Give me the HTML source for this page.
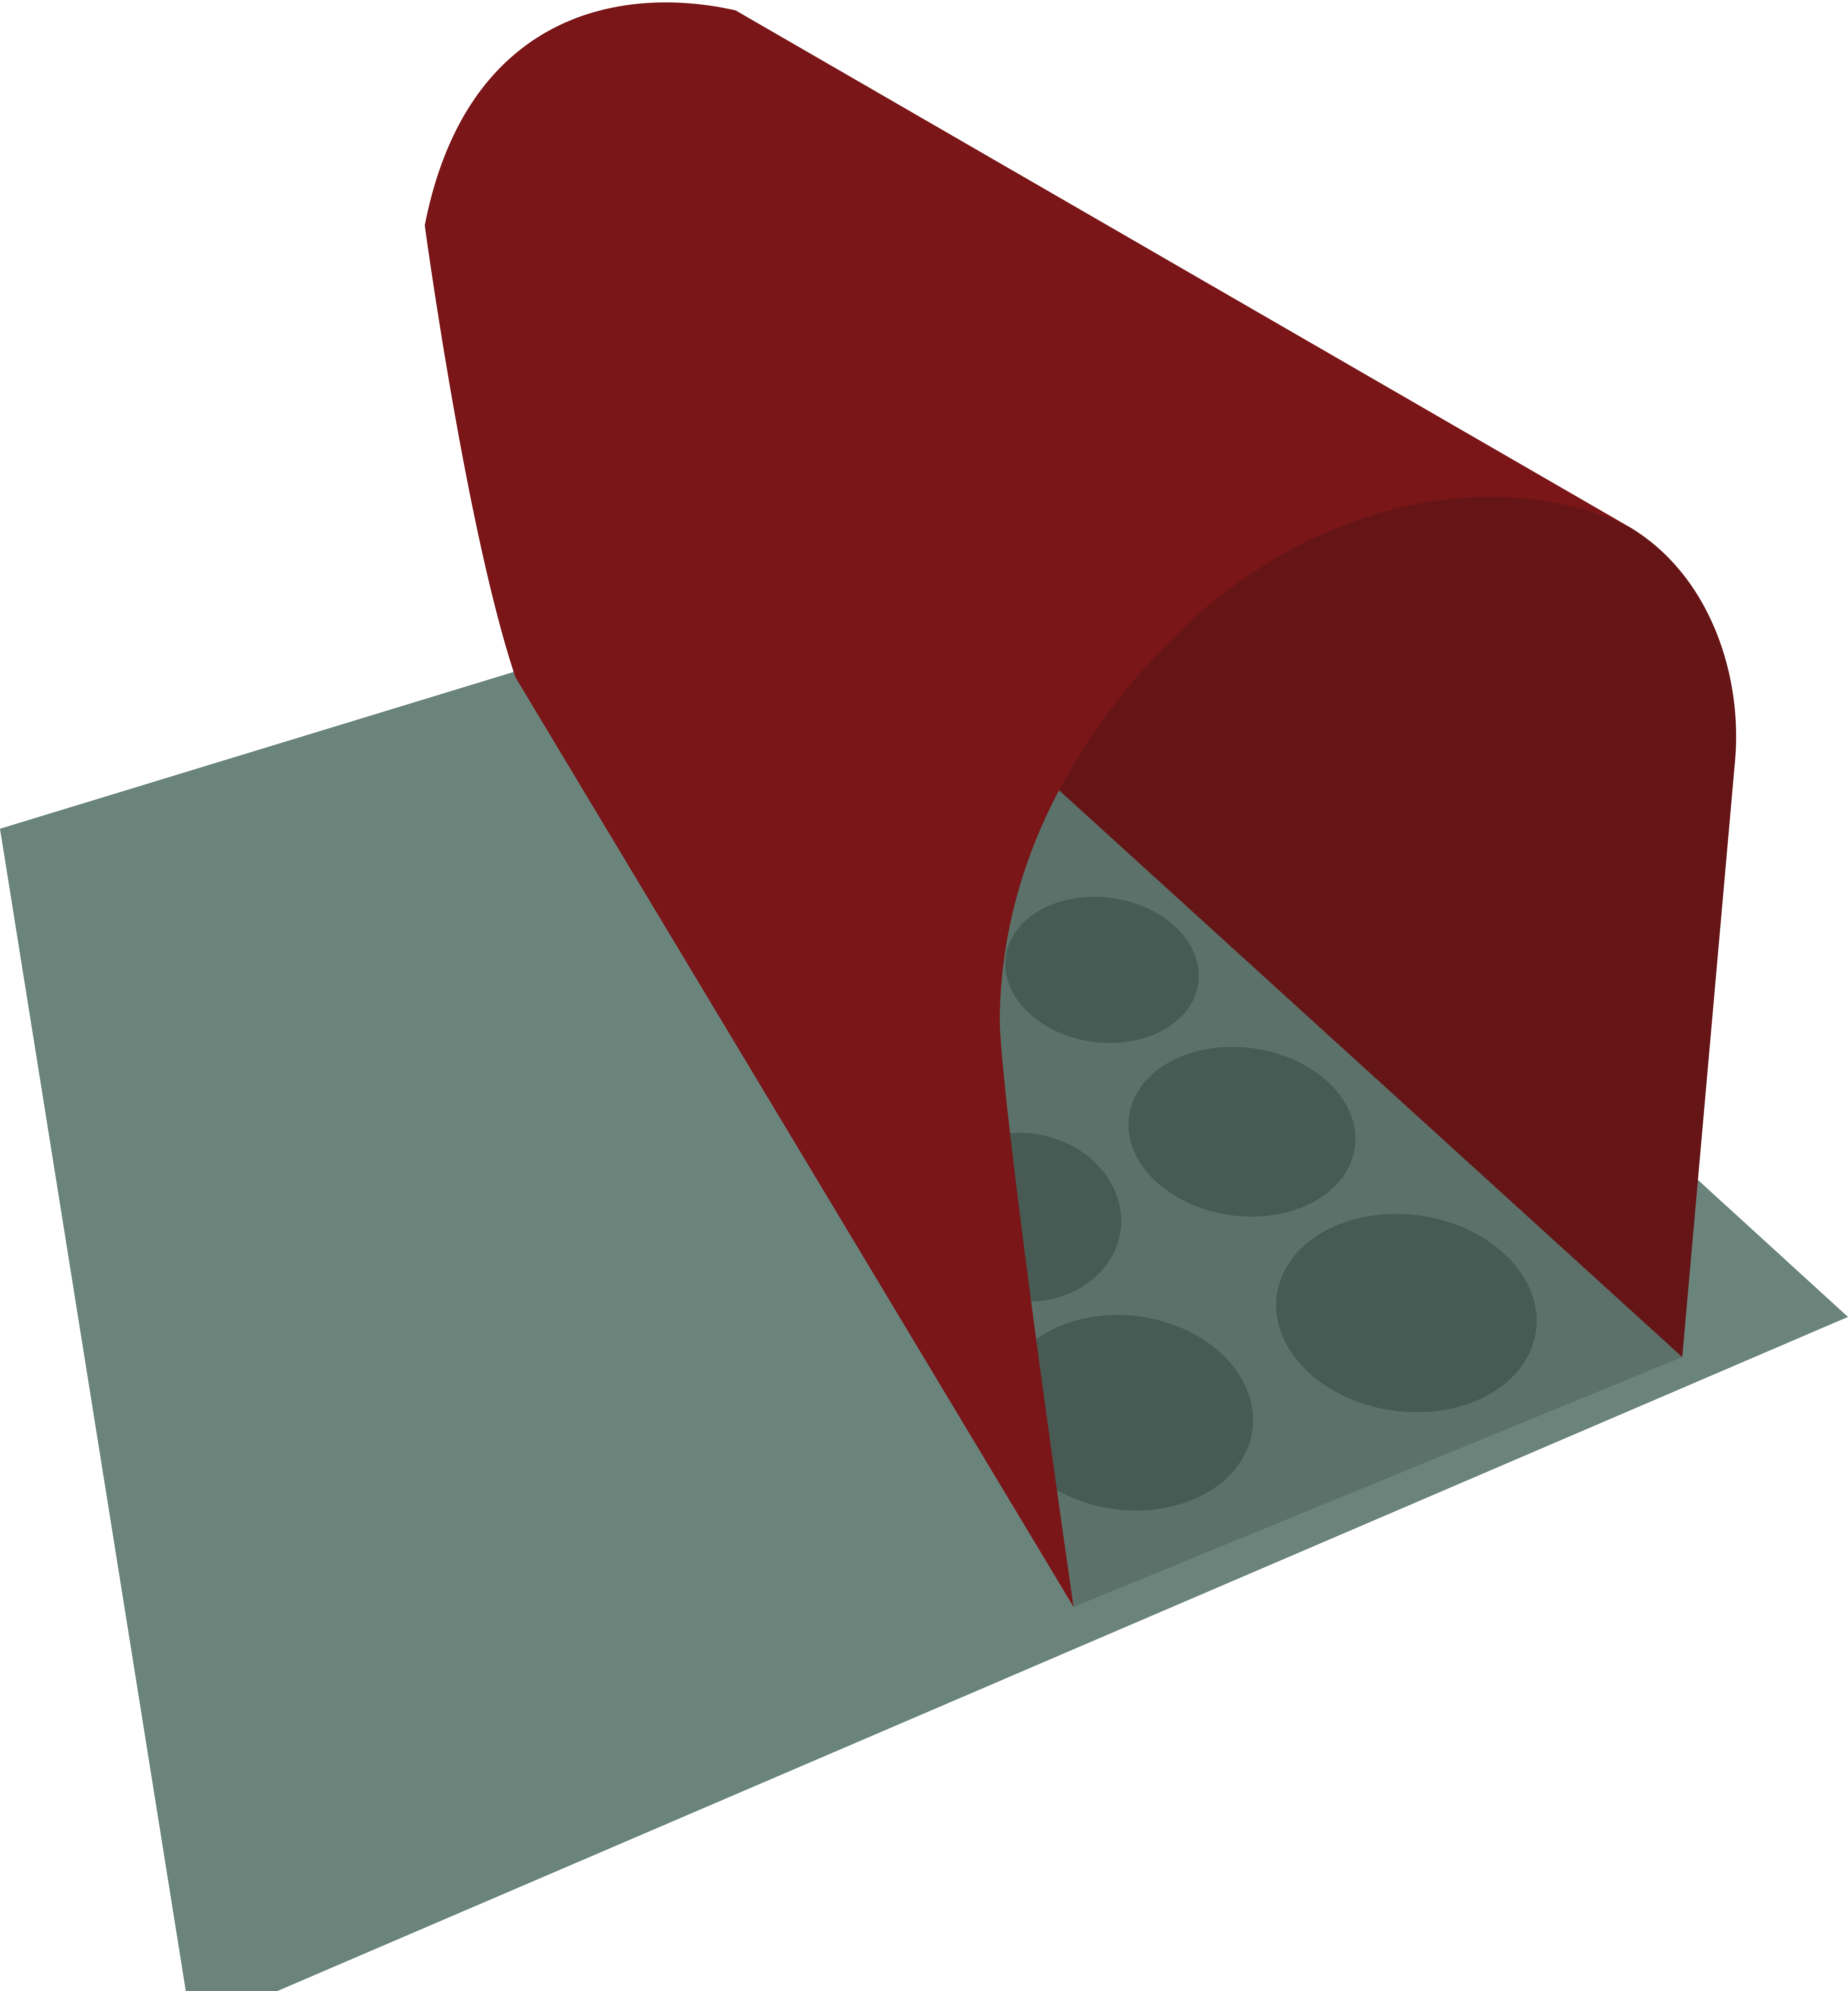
<!DOCTYPE html>
<html>
<head>
<meta charset="utf-8">
<style>
html,body{margin:0;padding:0;background:#fff;width:4641px;height:5099px;overflow:hidden;}
svg{display:block;position:absolute;left:0;top:0;}
</style>
</head>
<body>
<svg width="4641" height="5099" viewBox="0 0 1427 1568" preserveAspectRatio="none" xmlns="http://www.w3.org/2000/svg">
  <polygon points="0,640 760,408 1427,1017 148,1566" fill="#6a847c"/>
  <polygon points="760,560 812,605 1299,1048 829,1241 720,700" fill="#5b7169"/>
  <g fill="#475a53">
    <ellipse cx="851" cy="749" rx="75" ry="56" transform="rotate(8 851 749)"/>
    <ellipse cx="959" cy="874" rx="88" ry="65" transform="rotate(8 959 874)"/>
    <ellipse cx="1086" cy="1014" rx="101" ry="76" transform="rotate(8 1086 1014)"/>
    <ellipse cx="790" cy="940" rx="76" ry="65" transform="rotate(8 790 940)"/>
    <ellipse cx="870" cy="1091" rx="98" ry="75" transform="rotate(8 870 1091)"/>
  </g>
  <path d="M812,605 C850,520 960,420 1060,390 C1150,365 1220,385 1260,408 C1320,445 1345,520 1340,585 L1299,1048 Z" fill="#661517"/>
  <path d="M328,174 C360,10 480,-12 568,8 L1260,408 C1180,368 1050,370 930,470 C840,550 772,660 772,790 C775,870 829,1241 829,1241 L398,523 C360,410 328,174 328,174 Z" fill="#7a1617"/>
</svg>
</body>
</html>
